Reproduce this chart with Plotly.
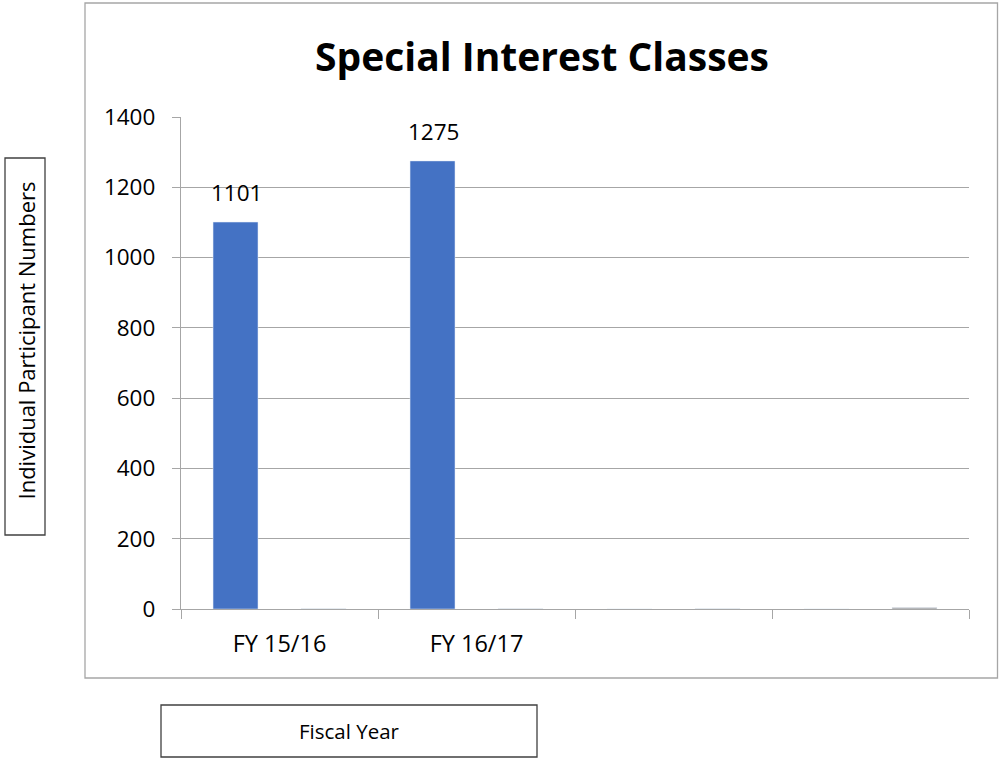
import plotly.graph_objects as go

categories = ["FY 15/16", "FY 16/17", " ", "  "]
series1 = [1101, 1275, 0, 0]
series2 = [1, 1, 1, 4]
y_ticks = [0, 200, 400, 600, 800, 1000, 1200, 1400]

FONT = "Open Sans"
W, H = 999, 759
# plot area in page pixels
PX0, PX1, PY0, PY1 = 181, 969, 117, 609
L, T = PX0, PY0
R, B = W - PX1, H - PY1
pw, ph = PX1 - PX0, PY1 - PY0

def px(x):
    return (x - PX0) / pw

def py(y):
    return (PY1 - y) / ph

fig = go.Figure()
fig.add_trace(go.Bar(x=categories, y=series1, marker_color="#4472C4"))
fig.add_trace(go.Bar(x=categories, y=series2, marker_color="#A5A5A5"))

shapes = [
    dict(type="rect", xref="paper", yref="paper", x0=px(85), x1=px(997.5), y0=py(678), y1=py(3),
         line=dict(color="#A6A6A6", width=1.3), layer="below"),
    dict(type="rect", xref="paper", yref="paper", x0=px(5), x1=px(45), y0=py(535), y1=py(158),
         line=dict(color="#404040", width=1.3)),
    dict(type="rect", xref="paper", yref="paper", x0=px(161), x1=px(537), y0=py(757), y1=py(705),
         line=dict(color="#404040", width=1.3)),
]
annotations = [
    dict(text="Individual Participant Numbers", xref="paper", yref="paper", x=px(25), y=py(340.5),
         textangle=-90, showarrow=False, font=dict(size=22, family=FONT, color="black"),
         xanchor="center", yanchor="middle"),
    dict(text="Fiscal Year", xref="paper", yref="paper", x=px(349), y=py(731),
         showarrow=False, font=dict(size=20.5, family=FONT, color="black"),
         xanchor="center", yanchor="middle"),
]
# data labels for series 1 (first bar of each group)
bar_xshift = 236 - 279.5
for c, v in zip(categories, series1):
    if v:
        annotations.append(dict(text=str(v), x=c, y=v, xref="x", yref="y", showarrow=False,
                                xanchor="center", yanchor="bottom", xshift=bar_xshift, yshift=12,
                                font=dict(size=22.5, family=FONT, color="black")))

fig.update_layout(
    width=W, height=H,
    margin=dict(l=L, r=R, t=T, b=B, pad=0),
    paper_bgcolor="white", plot_bgcolor="white",
    showlegend=False,
    barmode="group", bargap=0.107, bargroupgap=0.489,
    title=dict(text="<b>Special Interest Classes</b>", x=542 / W, xanchor="center",
               y=1 - 57 / H, yanchor="middle", font=dict(size=39, family=FONT, color="black")),
    font=dict(family=FONT, color="black"),
    shapes=shapes, annotations=annotations,
)
fig.update_xaxes(showline=True, linecolor="#A6A6A6", linewidth=1.3,
                 ticks="outside", tickson="boundaries", ticklen=9, tickcolor="#A6A6A6", tickwidth=1.3,
                 ticklabelstandoff=14,
                 tickfont=dict(size=23.5, family=FONT, color="black"), showgrid=False)
fig.update_yaxes(range=[0, 1400], tickvals=y_ticks, showline=True, linecolor="#A6A6A6", linewidth=1.3,
                 ticks="outside", ticklen=8, tickcolor="#A6A6A6", tickwidth=1.3,
                 ticklabelstandoff=12,
                 showgrid=True, gridcolor="#A6A6A6", gridwidth=1.3, zeroline=False,
                 tickfont=dict(size=22.5, family=FONT, color="black"))

fig.write_html("out.html", config={"displayModeBar": False},
               post_script="document.body.style.margin='0';")
